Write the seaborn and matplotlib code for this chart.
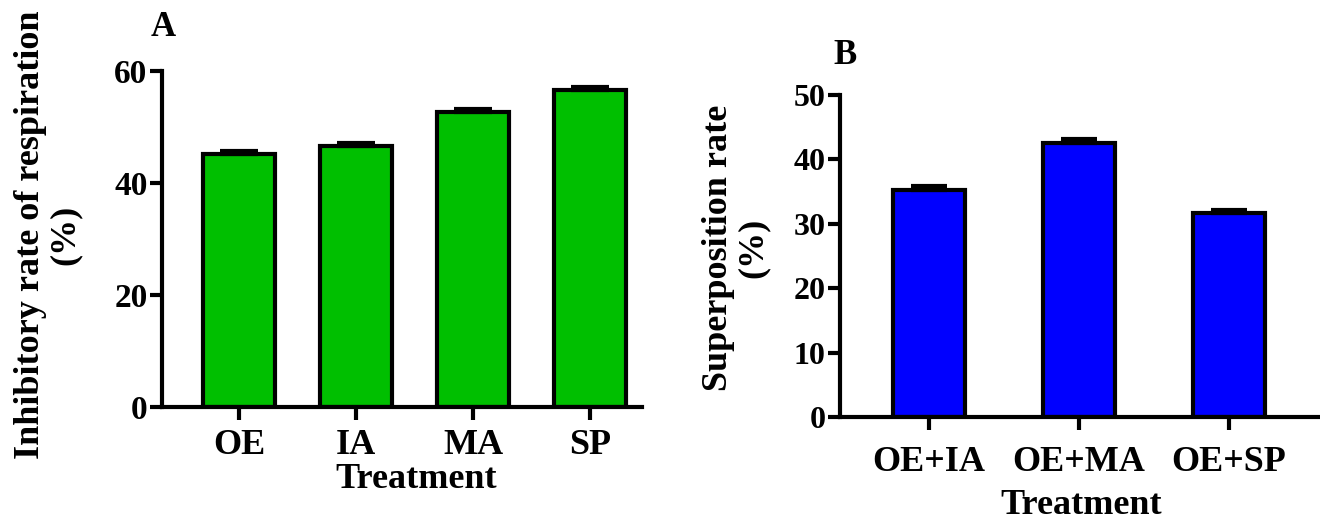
import matplotlib
matplotlib.use("Agg")
import matplotlib.pyplot as plt
import seaborn as sns
import pandas as pd
import numpy as np

# Panel A: inhibitory rate of respiration per single treatment
treat_a = ["OE", "IA", "MA", "SP"]
inhib_rate = [45.2, 46.6, 52.7, 56.6]
inhib_err = [0.5, 0.6, 0.5, 0.6]

# Panel B: superposition rate per combined treatment
treat_b = ["OE+IA", "OE+MA", "OE+SP"]
super_rate = [35.2, 42.6, 31.6]
super_err = [0.6, 0.5, 0.6]

sns.set_style("ticks")
plt.rcParams["font.family"] = ["Liberation Serif", "DejaVu Serif"]
plt.rcParams["font.weight"] = "bold"
plt.rcParams["axes.labelweight"] = "bold"
plt.rcParams["text.color"] = "black"
plt.rcParams["axes.edgecolor"] = "black"
plt.rcParams["xtick.color"] = "black"
plt.rcParams["ytick.color"] = "black"
plt.rcParams["xtick.labelcolor"] = "black"
plt.rcParams["ytick.labelcolor"] = "black"

LW = 3.0
GREEN = "#00BF00"
BLUE = "#0000FF"

fig = plt.figure(figsize=(13.2, 5.23), dpi=100)
ax_a = fig.add_axes([0.1227, 0.2218, 0.3636, 0.6424])
ax_b = fig.add_axes([0.6364, 0.2027, 0.3636, 0.6157])

df_a = pd.DataFrame({"Treatment": treat_a, "Rate": inhib_rate})
df_b = pd.DataFrame({"Treatment": treat_b, "Rate": super_rate})


def draw_panel(ax, df, err, color, width, capsize, xlim, ylim, yticks,
               ylabsize, xpad):
    sns.barplot(data=df, x="Treatment", y="Rate", color=color, width=width,
                edgecolor="black", linewidth=LW, errorbar=None, ax=ax,
                saturation=1)
    x = np.arange(len(df))
    ax.errorbar(x, df["Rate"], yerr=[np.zeros(len(df)), err], fmt="none",
                ecolor="black", elinewidth=LW, capsize=capsize,
                capthick=LW, zorder=1)
    ax.set_xlim(*xlim)
    ax.set_ylim(*ylim)
    ax.set_yticks(yticks)
    ax.set_xlabel("")
    ax.set_ylabel("")
    for side in ("top", "right"):
        ax.spines[side].set_visible(False)
    for side in ("left", "bottom"):
        ax.spines[side].set_linewidth(LW)
        ax.spines[side].set_color("black")
        ax.spines[side].set_capstyle("projecting")
    ax.tick_params(axis="y", length=8.5, width=LW, labelsize=ylabsize, pad=2)
    ax.tick_params(axis="x", length=9, width=LW, labelsize=26, pad=xpad)
    for lab in ax.get_xticklabels() + ax.get_yticklabels():
        lab.set_fontweight("bold")


draw_panel(ax_a, df_a, inhib_err, GREEN, 0.615, 14,
           (-0.658, 3.444), (0, 60), [0, 20, 40, 60], 24, 7)
draw_panel(ax_b, df_b, super_err, BLUE, 0.48, 13,
           (-0.593, 2.607), (0, 50), [0, 10, 20, 30, 40, 50], 23, 12)

# Axis titles and panel letters
fig.text(48 / 1320, 1 - 235 / 523, "Inhibitory rate of respiration\n(%)",
         rotation=90, ha="center", va="center", fontsize=26,
         fontweight="bold", multialignment="center", linespacing=1.05)
fig.text(736 / 1320, 1 - 248 / 523, "Superposition rate\n(%)",
         rotation=90, ha="center", va="center", fontsize=26,
         fontweight="bold", multialignment="center", linespacing=1.05)
fig.text(416 / 1320, 1 - 480 / 523, "Treatment", ha="center", va="center",
         fontsize=26, fontweight="bold")
fig.text(1081 / 1320, 1 - 505 / 523, "Treatment", ha="center", va="center",
         fontsize=26, fontweight="bold")
fig.text(163 / 1320, 1 - 27 / 523, "A", ha="center", va="center",
         fontsize=25, fontweight="bold")
fig.text(845 / 1320, 1 - 55 / 523, "B", ha="center", va="center",
         fontsize=25, fontweight="bold")

fig.savefig("out.png", dpi=100)
